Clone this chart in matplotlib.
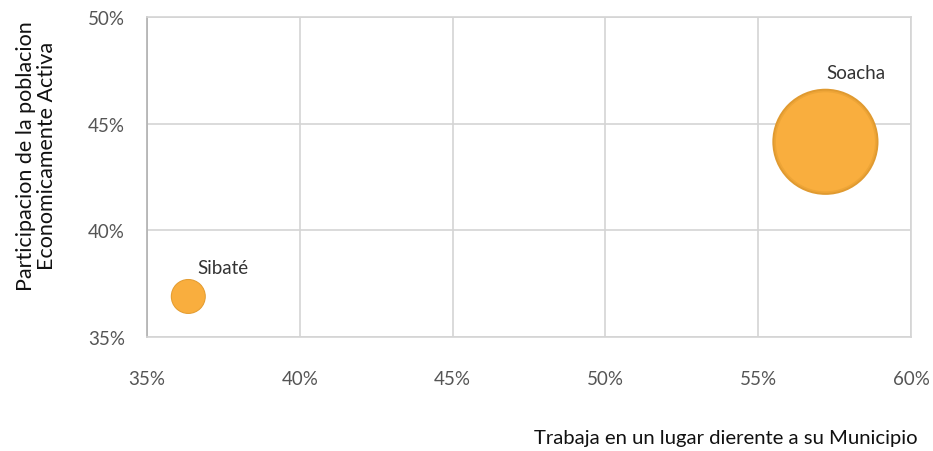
import matplotlib
matplotlib.use("Agg")
import matplotlib.pyplot as plt
from matplotlib.ticker import PercentFormatter

# municipios y sus indicadores
municipios = ["Sibaté", "Soacha"]
trabaja_fuera = [36.35, 57.2]      # % que trabaja en otro municipio
pea = [36.9, 44.15]                # % participacion poblacion economicamente activa
tamano = [1.0, 9.2]                # tamaño relativo de la burbuja

x_ticks = [35, 40, 45, 50, 55, 60]
y_ticks = [35, 40, 45, 50]

plt.rcParams['font.family'] = ['Lato', 'DejaVu Sans']

fig = plt.figure(figsize=(9.33, 4.52), dpi=100)
ax = fig.add_axes([0.1576, 0.2522, 0.8188, 0.708])

# burbujas con borde sombreado: capas de mas oscuro a mas claro
escala = 635
s = [t * escala for t in tamano]
capas = [(1.0, '#E09A30'), (0.93, '#EEA537'), (0.87, '#F9AE3E')]
for i, (f, c) in enumerate(capas):
    ax.scatter(trabaja_fuera, pea, s=[v * f for v in s], color=c,
               zorder=3 + i, linewidths=0)

offsets = {"Sibaté": (6.5, 21), "Soacha": (1, 50)}
for nombre, x, y in zip(municipios, trabaja_fuera, pea):
    ax.annotate(nombre, (x, y), xytext=offsets[nombre], textcoords='offset points',
                ha='left', va='center', fontsize=13.5, color='#333333', zorder=6)

ax.set_xlim(35, 60)
ax.set_ylim(35, 50)
ax.set_xticks(x_ticks)
ax.set_yticks(y_ticks)
ax.xaxis.set_major_formatter(PercentFormatter(decimals=0))
ax.yaxis.set_major_formatter(PercentFormatter(decimals=0))
ax.tick_params(axis='both', length=0, labelsize=13.5, labelcolor='#555555')
ax.tick_params(axis='x', pad=24)
ax.tick_params(axis='y', pad=16)

ax.grid(True, color='#d4d4d4', linewidth=1.2, zorder=0)
ax.set_axisbelow(True)
for lado in ['top', 'right', 'bottom']:
    ax.spines[lado].set_color('#d4d4d4')
    ax.spines[lado].set_linewidth(1.2)
ax.spines['left'].set_color('#b0b0b0')
ax.spines['left'].set_linewidth(1.2)

fig.text(0.039, 0.655, "Participacion de la poblacion\nEconomicamente Activa",
         rotation=90, ha='center', va='center', fontsize=15.5, color='#111111',
         linespacing=1.05)
fig.text(0.984, 0.012, "Trabaja en un lugar dierente a su Municipio",
         ha='right', va='bottom', fontsize=14.6, color='#111111')

fig.savefig("out.png", dpi=100)
